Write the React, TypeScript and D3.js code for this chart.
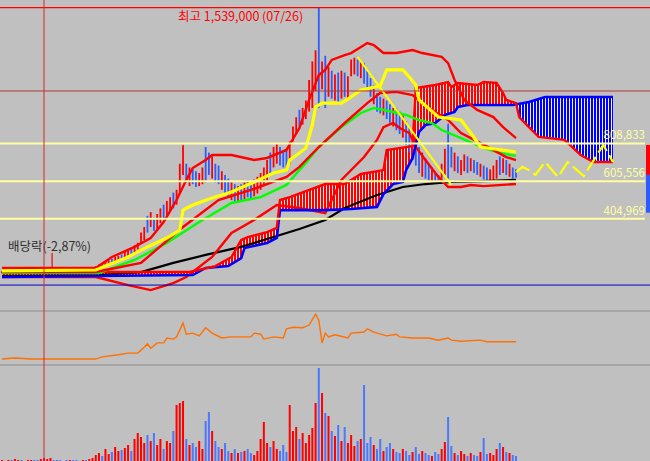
import React from 'react';
import * as d3 from 'd3';

const W = 650;
const H = 461;

// candles: [high, low, up] in thousand won, one per trading day
const candles: [number, number, number][] = [
  [122, 112, 1], [120, 111, 0], [121, 113, 1], [119, 110, 0], [120, 112, 1], [123, 114, 1], [121, 113, 0], [120, 112, 0], [122, 114, 1], [124, 115, 1],
  [123, 114, 0], [121, 113, 0], [122, 114, 1], [125, 116, 1], [128, 118, 1], [131, 120, 1], [126, 117, 0], [124, 115, 0], [123, 114, 0], [122, 113, 1],
  [121, 113, 0], [123, 114, 1], [122, 113, 0], [121, 112, 0], [120, 112, 1], [122, 113, 1], [121, 113, 0], [123, 114, 1], [125, 116, 1],
  [150, 130, 1], [158, 140, 1], [165, 145, 0], [172, 150, 1], [180, 160, 1], [190, 165, 0], [200, 172, 1], [205, 180, 1], [212, 188, 0], [225, 195, 1],
  [235, 205, 1], [245, 215, 0], [262, 225, 1], [275, 240, 1], [330, 270, 1], [360, 290, 1], [420, 330, 0], [440, 360, 1], [410, 340, 0], [430, 350, 1],
  [460, 380, 1], [480, 400, 0], [500, 420, 1], [520, 440, 1], [545, 460, 0], [560, 480, 1], [700, 540, 1], [800, 640, 1], [700, 600, 0], [680, 580, 1],
  [670, 590, 0], [660, 575, 0], [650, 580, 1], [680, 590, 1], [790, 600, 0], [760, 640, 0], [740, 620, 1], [700, 600, 0], [690, 590, 0], [660, 560, 1],
  [640, 540, 0], [620, 520, 0], [600, 505, 1], [590, 490, 0], [580, 500, 1], [590, 500, 0], [600, 510, 1], [610, 520, 0], [600, 515, 0], [615, 525, 1],
  [630, 540, 1], [650, 560, 1], [680, 580, 1], [720, 610, 1], [760, 640, 0], [790, 680, 1], [810, 700, 1], [790, 690, 0], [770, 680, 0], [780, 660, 0],
  [820, 700, 1], [900, 820, 1], [950, 860, 1], [990, 900, 0], [1000, 910, 1], [1040, 940, 1], [1150, 980, 1], [1250, 1000, 1], [1310, 1090, 1], [1539, 1000, 0],
  [1250, 1100, 1], [1280, 1000, 0], [1220, 1060, 1], [1200, 1050, 0], [1180, 1040, 1], [1190, 1030, 0], [1200, 1050, 1], [1190, 1060, 0], [1170, 1050, 1], [1260, 1170, 1],
  [1270, 1180, 1], [1260, 1170, 0], [1250, 1160, 1], [1240, 1130, 0], [1200, 1100, 0], [1160, 1060, 0], [1120, 1020, 1], [1080, 980, 0], [1060, 970, 0], [1050, 960, 1],
  [1040, 940, 0], [1020, 920, 0], [1000, 900, 1], [1000, 880, 0], [980, 860, 0], [960, 840, 1], [930, 800, 0], [900, 760, 0], [850, 720, 1], [820, 690, 0],
  [790, 650, 0], [760, 630, 1], [730, 620, 0], [700, 610, 0], [680, 600, 1], [650, 600, 0], [640, 605, 0], [700, 620, 1], [780, 640, 1], [915, 620, 0],
  [790, 680, 0], [760, 660, 1], [740, 650, 0], [720, 640, 1], [750, 660, 1], [740, 650, 0], [730, 660, 1], [720, 650, 0], [710, 640, 0], [700, 630, 1],
  [690, 615, 0], [680, 610, 0], [670, 605, 1], [690, 610, 1], [720, 620, 1], [740, 640, 0], [730, 650, 1], [720, 640, 0], [700, 630, 1], [680, 620, 0], [670, 625, 0],
];

// volume per day (thousand shares)
const volumes = [
  1, 0, 1, 1, 2, 1, 1, 0, 1, 1, 1, 1, 2, 3, 2, 3, 1, 1, 1, 0, 1, 1, 1, 1, 0, 1, 1, 2, 3,
  6, 8, 5, 12, 7, 9, 14, 10, 11,
  13, 16, 10, 22, 28, 24, 18,
  26, 20, 28, 16, 22, 12, 20, 18,
  30, 56, 58, 60, 22,
  16, 18, 14, 20, 12,
  40, 49, 30,
  20, 14, 12, 18, 10, 8, 12, 8,
  9, 10, 12, 8, 6, 10,
  22, 39, 18, 14, 20,
  12, 10, 16, 9,
  56,
  30, 34, 22, 28, 18, 26, 33,
  58, 93, 68, 48,
  45, 30, 25, 36,
  20, 34, 18, 26, 15, 20, 22,
  76,
  18, 24, 16, 12, 22, 10, 14, 18, 12, 9,
  8, 12, 10, 6, 9, 14, 7, 10, 8, 6, 5, 9, 7,
  12, 19, 44,
  15, 8, 6, 10, 7, 5, 8, 6, 5, 9,
  23,
  7, 8, 6, 12, 18, 14, 9, 8, 6, 5,
];

// [day, value] series
const bbUpper: [number, number][] = [[0, 140], [29, 140], [34, 199], [41, 253], [46, 301], [50, 387], [54, 505], [57, 613], [59, 677], [63, 720], [65, 747], [71, 747], [78, 720], [82, 731], [88, 774], [92, 892], [95, 1043], [98, 1177], [100, 1204], [102, 1258], [106, 1284], [108, 1295], [113, 1349], [115, 1338], [118, 1295], [122, 1295], [127, 1311], [130, 1295], [136, 1274], [138, 1241], [140, 1150], [143, 1043], [147, 989], [152, 951], [155, 897], [159, 838]];
const bbMid: [number, number][] = [[0, 118], [29, 118], [43, 167], [56, 360], [67, 505], [77, 559], [88, 629], [92, 683], [98, 790], [106, 919], [113, 1026], [117, 1080], [122, 1086], [127, 1069], [130, 1026], [133, 989], [138, 935], [142, 865], [148, 811], [156, 736], [159, 720]];
const bbLower: [number, number][] = [[0, 91], [29, 91], [39, 48], [46, 21], [53, 59], [57, 91], [65, 199], [71, 328], [78, 398], [85, 478], [92, 462], [100, 435], [105, 613], [112, 736], [116, 828], [118, 897], [121, 919], [123, 892], [126, 865], [128, 790], [131, 720], [135, 629], [138, 575], [142, 575], [145, 586], [149, 580], [159, 591]];
const maGreen: [number, number][] = [[0, 113], [30, 113], [41, 183], [51, 274], [61, 387], [71, 489], [80, 521], [88, 586], [92, 666], [94, 704], [98, 790], [105, 897], [111, 973], [115, 1000], [121, 978], [125, 962], [129, 935], [133, 919], [136, 881], [142, 838], [149, 785], [154, 758], [159, 742]];
const maBlack: [number, number][] = [[0, 97], [30, 102], [43, 118], [53, 167], [63, 210], [74, 253], [84, 306], [92, 349], [100, 398], [106, 462], [116, 532], [124, 575], [131, 591], [139, 602], [149, 607], [159, 613]];
const kijun: [number, number][] = [[0, 124], [29, 129], [39, 199], [45, 253], [51, 301], [55, 344], [56, 451], [59, 478], [65, 516], [71, 548], [78, 602], [84, 650], [88, 666], [89, 720], [92, 758], [94, 785], [96, 908], [97, 1005], [99, 1026], [105, 1026], [108, 1059], [111, 1096], [117, 1118], [119, 1204], [124, 1204], [126, 1166], [128, 1123], [129, 1043], [135, 951], [142, 935], [145, 865], [148, 790], [159, 763]];
const spanA: [number, number][] = [[0, 118], [58, 118], [66, 150], [71, 199], [74, 290], [76, 306], [82, 333], [85, 355], [86, 505], [89, 521], [100, 591], [106, 591], [111, 645], [118, 666], [119, 774], [127, 795], [128, 1107], [134, 1123], [138, 1139], [139, 1112], [141, 1134], [147, 1123], [149, 1139], [153, 1134], [155, 1080], [156, 1043], [159, 1026], [160, 951], [163, 897], [166, 844], [174, 828], [179, 747], [183, 709], [189, 709]];
const spanB: [number, number][] = [[0, 91], [59, 102], [63, 140], [70, 150], [74, 193], [75, 247], [82, 274], [85, 301], [86, 451], [100, 451], [108, 457], [116, 468], [118, 537], [121, 591], [124, 602], [125, 666], [127, 731], [129, 871], [131, 908], [134, 919], [137, 962], [140, 978], [141, 1005], [144, 1016], [158, 1016], [163, 1032], [168, 1059], [189, 1059]];
const trendLine: [number, number][] = [[110, 1274], [139, 586]];
const zigzag: [number, number][] = [[159, 655], [161, 683], [163, 666], [165, 640], [168, 709], [172, 629], [175, 709], [180, 634], [186, 801], [189, 709]];

// lower indicator (orange)
const osc: [number, number][] = [[0, 11], [4, 13], [9, 11], [29, 11], [31, 15], [36, 19], [39, 22], [42, 22], [44, 33], [45, 39], [46, 31], [48, 41], [50, 41], [51, 50], [53, 48], [54, 52], [56, 78], [57, 57], [59, 59], [61, 54], [63, 69], [65, 59], [68, 50], [71, 52], [77, 52], [78, 59], [80, 57], [81, 48], [84, 52], [87, 50], [88, 67], [90, 70], [93, 69], [95, 74], [97, 94], [98, 83], [99, 41], [100, 59], [101, 52], [103, 56], [107, 50], [108, 59], [112, 61], [113, 67], [115, 61], [119, 54], [122, 57], [123, 52], [127, 50], [132, 50], [135, 46], [138, 50], [139, 46], [142, 44], [148, 46], [150, 43], [159, 43]];

const priceLevels = [808833, 605556, 404969];
const highPrice = 1539000;
const highDate = '07/26';
const crossDay = 13;
const crossValue = 1091;
const lowLine = 48;
const sideBars: [number, number, string][] = [[801, 640, '#ff0000'], [640, 437, '#2a5cff']];

const RED = '#ff0000';
const BLUE = '#2a5cff';
const FONT = "'Noto Sans CJK KR', 'DejaVu Sans', sans-serif";

export default function App() {
  const x = d3.scaleLinear().domain([0, 159]).range([2, 516]);
  const y = d3.scaleLinear().domain([0, 1580]).range([294, 0]);
  const yVol = d3.scaleLinear().domain([0, 100]).range([461, 361]);
  const yOsc = d3.scaleLinear().domain([0, 100]).range([365, 311]);

  const line = d3.line<[number, number]>().x(d => x(d[0])).y(d => y(d[1]));
  const oscLine = d3.line<[number, number]>().x(d => x(d[0])).y(d => yOsc(d[1]));
  const above = d3.area<[number, number]>().x(d => x(d[0])).y0(0).y1(d => y(d[1]));
  const below = d3.area<[number, number]>().x(d => x(d[0])).y0(d => y(d[1])).y1(300);
  const fmt = d3.format(',');

  return (
    <div style={{ position: 'absolute', left: 0, top: 0 }}>
      <svg width={W} height={H} style={{ display: 'block' }} fontFamily={FONT}>
        <defs>
          <pattern id="hatchR" width="3" height="10" patternUnits="userSpaceOnUse">
            <rect width="3" height="10" fill="#ffeaea" />
            <rect width="2" height="10" fill={RED} />
          </pattern>
          <pattern id="hatchB" width="3" height="10" patternUnits="userSpaceOnUse">
            <rect width="3" height="10" fill="#f4f4ff" />
            <rect width="2" height="10" fill="#0000ff" />
          </pattern>
          <clipPath id="belowA"><path d={below(spanA) || ''} /></clipPath>
          <clipPath id="belowB"><path d={below(spanB) || ''} /></clipPath>
        </defs>
        <rect width={W} height={H} fill="#c0c0c0" />

        {/* ichimoku cloud */}
        <path d={above(spanB) || ''} fill="url(#hatchR)" clipPath="url(#belowA)" />
        <path d={above(spanA) || ''} fill="url(#hatchB)" clipPath="url(#belowB)" />

        {/* candles */}
        {candles.map((c, i) => (
          <line key={'c' + i} x1={x(i)} x2={x(i)} y1={y(c[0])} y2={y(c[1])}
            stroke={c[2] ? RED : BLUE} strokeWidth={1.8} />
        ))}

        <path d={line(maBlack) || ''} fill="none" stroke="#000" strokeWidth={2.2} />
        <path d={line(bbLower) || ''} fill="none" stroke={RED} strokeWidth={2.4} />
        <path d={line(spanB) || ''} fill="none" stroke="#0000ff" strokeWidth={2.6} />
        <path d={line(spanA) || ''} fill="none" stroke={RED} strokeWidth={2.4} />
        <path d={line(maGreen) || ''} fill="none" stroke="#00ff00" strokeWidth={2.4} />
        <path d={line(bbMid) || ''} fill="none" stroke={RED} strokeWidth={2.4} />
        <path d={line(bbUpper) || ''} fill="none" stroke={RED} strokeWidth={2.4} />
        <path d={line(kijun) || ''} fill="none" stroke="#ffff00" strokeWidth={3.2} />
        <path d={line(trendLine) || ''} fill="none" stroke="#ffff00" strokeWidth={2} />
        <path d={line(zigzag) || ''} fill="none" stroke="#ffff00" strokeWidth={2.2} strokeDasharray="16,5" />

        {/* reference lines */}
        <line x1={0} x2={W} y1={y(highPrice / 1000)} y2={y(highPrice / 1000)} stroke={RED} strokeWidth={1.2} />
        <line x1={0} x2={W} y1={y(crossValue)} y2={y(crossValue)} stroke="#b03838" strokeWidth={1} />
        <line x1={0} x2={W} y1={y(lowLine)} y2={y(lowLine)} stroke="#0000c8" strokeWidth={1} />
        {priceLevels.map(p => (
          <g key={p}>
            <line x1={0} x2={645} y1={y(p / 1000)} y2={y(p / 1000)} stroke="#ffffa0" strokeWidth={2} />
            <text x={645} y={y(p / 1000) - 4} textAnchor="end" fontSize={11.5} fill="#ffffa0">{fmt(p)}</text>
          </g>
        ))}
        {sideBars.map((b, i) => (
          <rect key={'s' + i} x={646} width={4} y={y(b[0])} height={y(b[1]) - y(b[0])} fill={b[2]} />
        ))}

        <text x={178} y={21} fontSize={12.5} fill={RED}>{`최고 ${fmt(highPrice)} (${highDate})`}</text>
        <text x={8} y={251} fontSize={12.5} fill="#303030">배당락(-2,87%)</text>
        <line x1={x(15.5)} x2={x(15.5)} y1={253} y2={268} stroke={RED} strokeWidth={1.2} />

        {/* pane separators */}
        <line x1={0} x2={W} y1={311} y2={311} stroke="#8a8a8a" strokeWidth={1.2} />
        <line x1={0} x2={W} y1={365} y2={365} stroke="#8a8a8a" strokeWidth={1.2} />

        {/* indicator */}
        <path d={oscLine(osc) || ''} fill="none" stroke="#ff7000" strokeWidth={1.4} />

        {/* volume */}
        {volumes.map((v, i) => (
          <rect key={'v' + i} x={x(i) - 1} width={2} y={yVol(v)} height={H - yVol(v)}
            fill={candles[i][2] ? RED : '#4a78ff'} />
        ))}

        {/* crosshair */}
        <line x1={x(crossDay)} x2={x(crossDay)} y1={0} y2={H} stroke="#d82828" strokeWidth={1} />
      </svg>
    </div>
  );
}
